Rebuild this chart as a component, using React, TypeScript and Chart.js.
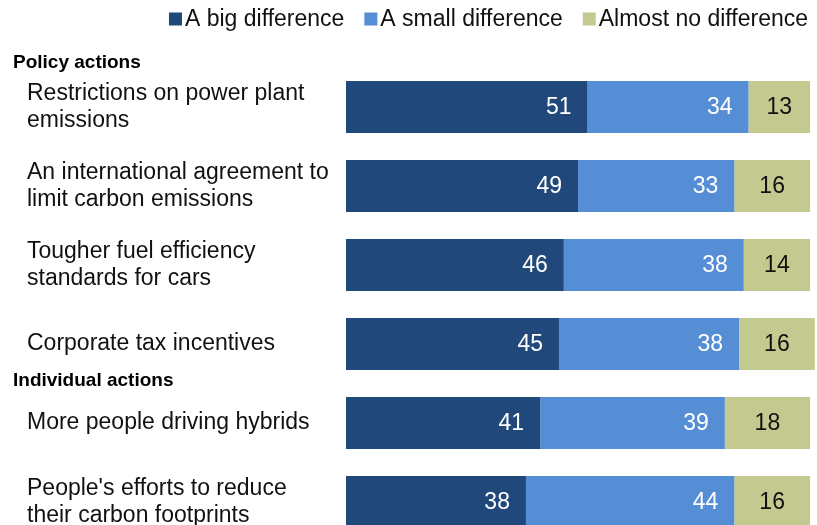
import React, { useEffect, useRef } from "react";
import { Chart, registerables } from "chart.js";

Chart.register(...registerables);

const categories: string[][] = [
  ["Restrictions on power plant", "emissions"],
  ["An international agreement to", "limit carbon emissions"],
  ["Tougher fuel efficiency", "standards for cars"],
  ["Corporate tax incentives"],
  ["More people driving hybrids"],
  ["People's efforts to reduce", "their carbon footprints"],
];
const bigDifference = [51, 49, 46, 45, 41, 38];
const smallDifference = [34, 33, 38, 38, 39, 44];
const almostNoDifference = [13, 16, 14, 16, 18, 16];
const seriesNames = ["A big difference", "A small difference", "Almost no difference"];
const seriesColors = ["#20487A", "#558ED5", "#C4C98F"];
const valueColors = ["#FFFFFF", "#FFFFFF", "#111111"];
const groupHeaders = ["Policy actions", "Individual actions"];
const groupStartIndex = [0, 4];

const LABEL_FONT = "'Liberation Sans', Arial, sans-serif";
const LEGEND_FONT = "'Liberation Sans', Arial, sans-serif";

const overlayPlugin = {
  id: "overlay",
  afterDatasetsDraw(chart: any) {
    const ctx = chart.ctx;
    ctx.save();
    // value labels
    chart.data.datasets.forEach((ds: any, di: number) => {
      const meta = chart.getDatasetMeta(di);
      meta.data.forEach((bar: any, i: number) => {
        const v = ds.data[i];
        ctx.font = `23px ${LABEL_FONT}`;
        ctx.fillStyle = valueColors[di];
        ctx.textBaseline = "middle";
        const left = Math.min(bar.base, bar.x);
        const right = Math.max(bar.base, bar.x);
        if (di === 2) {
          ctx.textAlign = "center";
          ctx.fillText(String(v), (left + right) / 2, bar.y + 1);
        } else {
          ctx.textAlign = "right";
          ctx.fillText(String(v), right - 16, bar.y + 1);
        }
      });
    });
    // group headers
    const y = chart.scales.y;
    ctx.font = `bold 19px ${LABEL_FONT}`;
    ctx.fillStyle = "#000";
    ctx.textAlign = "left";
    ctx.textBaseline = "middle";
    groupStartIndex.forEach((idx: number, gi: number) => {
      const py = y.getPixelForValue(idx);
      const yy = idx === 0 ? py - 44 : (py + y.getPixelForValue(idx - 1)) / 2 - 3;
      ctx.fillText(groupHeaders[gi], 13, yy);
    });
    // legend
    ctx.font = `23px ${LEGEND_FONT}`;
    const box = 13;
    const gapBoxText = 3;
    const gapItems = 20;
    const widths = chart.data.datasets.map((ds: any) => box + gapBoxText + ctx.measureText(ds.label).width);
    const total = widths.reduce((a: number, b: number) => a + b, 0) + gapItems * (widths.length - 1);
    let x = 808 - total;
    const ly = 19;
    chart.data.datasets.forEach((ds: any, di: number) => {
      ctx.fillStyle = ds.backgroundColor;
      ctx.fillRect(x, ly - box / 2, box, box);
      ctx.fillStyle = "#111";
      ctx.textAlign = "left";
      ctx.textBaseline = "middle";
      ctx.fillText(ds.label, x + box + gapBoxText, ly + 1);
      x += widths[di] + gapItems;
    });
    ctx.restore();
  },
};

export default function App() {
  const ref = useRef<HTMLCanvasElement>(null);
  useEffect(() => {
    if (!ref.current) return;
    const values = [bigDifference, smallDifference, almostNoDifference];
    const chart = new Chart(ref.current, {
      type: "bar",
      data: {
        labels: categories,
        datasets: values.map((d, i) => ({
          label: seriesNames[i],
          data: d,
          backgroundColor: seriesColors[i],
          borderWidth: 0,
          barPercentage: 52 / 79,
          categoryPercentage: 1,
        })),
      },
      options: {
        indexAxis: "y",
        responsive: false,
        animation: false,
        events: [],
        layout: { padding: { left: 27, right: 2.5, top: 67.5, bottom: 38.5 } },
        plugins: { legend: { display: false }, tooltip: { enabled: false }, title: { display: false } },
        scales: {
          x: { stacked: true, min: 0, max: 100, display: false },
          y: {
            stacked: true,
            grid: { display: false },
            border: { display: false },
            afterFit: (scale: any) => {
              scale.width = 319;
            },
            ticks: {
              crossAlign: "far",
              color: "#111",
              font: { family: LABEL_FONT, size: 23, lineHeight: 27 / 23 },
            },
          },
        },
      },
      plugins: [overlayPlugin],
    } as any);
    return () => chart.destroy();
  }, []);
  return (
    <div style={{ position: "fixed", left: 0, top: 0, width: 817, height: 525, overflow: "hidden", background: "#fff" }}>
      <canvas ref={ref} width={822} height={580} style={{ width: 822, height: 580, display: "block" }} />
    </div>
  );
}
